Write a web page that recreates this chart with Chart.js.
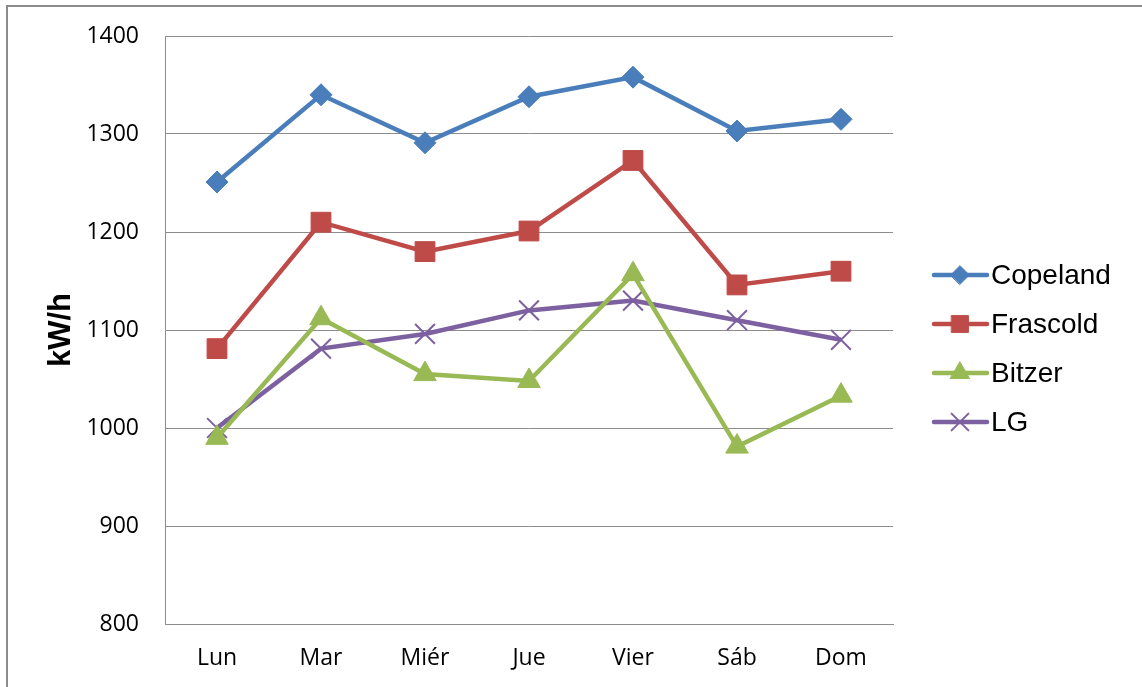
<!DOCTYPE html>
<html>
<head>
<meta charset="utf-8">
<script src="https://cdn.jsdelivr.net/npm/chart.js@4"></script>
<style>
html,body{margin:0;padding:0;background:#fff;}
#wrap{position:relative;width:1142px;height:687px;}
</style>
</head>
<body>
<div id="wrap"><canvas id="c" width="1142" height="687"></canvas></div>
<script>
const categories = ["Lun", "Mar", "Miér", "Jue", "Vier", "Sáb", "Dom"];
const copeland = [1251, 1340, 1291, 1338, 1358, 1303, 1315];
const frascold = [1081, 1210, 1180, 1201, 1273, 1146, 1160];
const bitzer   = [990, 1112, 1055, 1048, 1157, 981, 1033];
const lg       = [1000, 1081, 1096, 1120, 1130, 1110, 1090];
const seriesNames = ["Copeland", "Frascold", "Bitzer", "LG"];
const yTicks = [800, 900, 1000, 1100, 1200, 1300, 1400];
const yTitle = "kW/h";

const colors = ["#4A7EBB", "#BE4B48", "#98B954", "#7D60A0"];
const styles = ["rectRot", "rect", "triangle", "crossRot"];
const radii = [11, 14, 13, 14];

function mk(i, data) {
  return {
    label: seriesNames[i],
    data: data,
    borderColor: colors[i],
    backgroundColor: colors[i],
    borderWidth: 4.5,
    pointStyle: styles[i],
    pointRadius: radii[i],
    pointHoverRadius: radii[i],
    pointBackgroundColor: colors[i],
    pointBorderColor: colors[i],
    pointBorderWidth: i === 3 ? 2 : 1,
    tension: 0,
    fill: false
  };
}

const frame = {
  id: 'frame',
  beforeDraw(chart) {
    const ctx = chart.ctx;
    ctx.save();
    ctx.strokeStyle = '#8c8c8c';
    ctx.lineWidth = 2;
    ctx.strokeRect(7, 6, 1300, 1000);
    ctx.restore();
  }
};

const legendPlugin = {
  id: 'customLegend',
  afterDraw(chart) {
    const ctx = chart.ctx;
    ctx.save();
    chart.data.datasets.forEach((ds, i) => {
      const y = 275 + 49 * i;
      ctx.strokeStyle = ds.borderColor;
      ctx.lineWidth = 4.5;
      ctx.lineCap = 'round';
      ctx.beginPath();
      ctx.moveTo(934, y);
      ctx.lineTo(987, y);
      ctx.stroke();
      ctx.fillStyle = ds.pointBackgroundColor;
      ctx.strokeStyle = ds.pointBorderColor;
      ctx.lineWidth = ds.pointBorderWidth;
      Chart.helpers.drawPoint(ctx, {pointStyle: ds.pointStyle, radius: ds.pointRadius * 0.85, borderWidth: ds.pointBorderWidth, rotation: 0}, 960, y);
      ctx.fillStyle = '#000';
      ctx.font = '28px "Liberation Sans", Arial, sans-serif';
      ctx.textBaseline = 'middle';
      ctx.textAlign = 'left';
      ctx.fillText(ds.label, 991, y + 1);
    });
    ctx.restore();
  }
};

new Chart(document.getElementById('c'), {
  type: 'line',
  data: {
    labels: categories,
    datasets: [mk(0, copeland), mk(1, frascold), mk(2, bitzer), mk(3, lg)]
  },
  options: {
    responsive: false,
    animation: false,
    events: [],
    layout: { padding: { left: 0, right: 249, top: 36, bottom: 0 } },
    plugins: { legend: { display: false }, tooltip: { enabled: false } },
    scales: {
      x: {
        offset: true,
        grid: { display: false, drawTicks: false },
        border: { display: true, color: '#8c8c8c', width: 1 },
        ticks: {
          color: '#000',
          padding: 21,
          font: { family: '"Open Sans", sans-serif', size: 23 },
          maxRotation: 0, autoSkip: false
        },
        afterFit(s) { s.height = 63; s.paddingLeft = 0; s.paddingRight = 0; }
      },
      y: {
        min: 800, max: 1400,
        afterBuildTicks(s) { s.ticks = yTicks.map(v => ({ value: v })); },
        grid: { color: '#8c8c8c', lineWidth: 1, drawTicks: false },
        border: { display: true, color: '#8c8c8c', width: 1 },
        ticks: {
          color: '#000',
          padding: 26,
          font: { family: '"Open Sans", sans-serif', size: 23 },
          callback: (v) => String(v)
        },
        title: {
          display: true,
          text: yTitle,
          color: '#000',
          font: { family: '"Liberation Sans", Arial, sans-serif', size: 31, weight: 'bold' },
          padding: { top: 43, bottom: 0 }
        },
        afterFit(s) { s.width = 165; s.paddingTop = 0; s.paddingBottom = 0; }
      }
    }
  },
  plugins: [frame, legendPlugin]
});
</script>
</body>
</html>
